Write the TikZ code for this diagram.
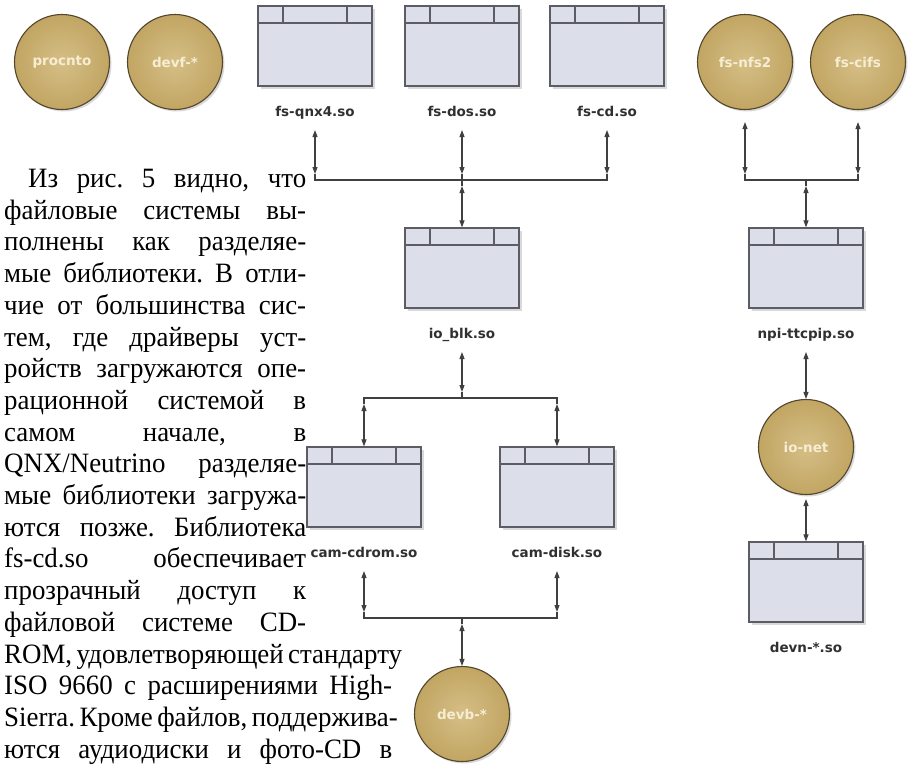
\documentclass[tikz,border=0pt]{standalone}
\usepackage{fontspec}
\setmainfont{Liberation Serif}[FakeStretch=0.96]
\newfontfamily\labelfont{DejaVu Sans}
\usepackage{xcolor}
\usetikzlibrary{positioning,calc,shadows,arrows.meta}

\definecolor{gold}{HTML}{CBAE68}
\definecolor{goldline}{HTML}{54452C}
\definecolor{cream}{HTML}{F6EDD2}
\definecolor{boxfill}{HTML}{DCDEEA}
\definecolor{boxline}{HTML}{5C5C64}
\definecolor{lblgray}{HTML}{303030}
\definecolor{wirecol}{HTML}{404040}

\newcommand{\jl}[1]{\hbox to 302pt{#1}}
\newcommand{\jw}[1]{\hbox to 388pt{#1}}

\begin{document}
\begin{tikzpicture}
  [x=1pt,y=-1pt,
   proc/.style={circle,minimum size=95pt,inner sep=0pt,draw=goldline,line width=1.1pt,
     inner color=gold!80!white,outer color=gold!95!black,
     drop shadow={shadow xshift=2pt,shadow yshift=-2pt,opacity=.3},
     text=cream,font=\labelfont\bfseries\fontsize{13.5}{16}\selectfont},
   lib/.style={rectangle,minimum width=114pt,minimum height=80pt,inner sep=0pt,
     fill=boxfill,draw=boxline,line width=1.2pt,
     drop shadow={shadow xshift=3pt,shadow yshift=-3pt,opacity=.3},
     path picture={
       \draw[boxline,line width=1.2pt]
         ([yshift=-17pt]path picture bounding box.north west) -- ([yshift=-17pt]path picture bounding box.north east)
         ([xshift=25pt]path picture bounding box.north west) -- ([xshift=25pt,yshift=-17pt]path picture bounding box.north west)
         ([xshift=-25pt]path picture bounding box.north east) -- ([xshift=-25pt,yshift=-17pt]path picture bounding box.north east);}},
   lbl/.style={font=\labelfont\bfseries\fontsize{13.5}{16}\selectfont,text=lblgray,
     text height=10pt,text depth=3pt,inner xsep=2pt,inner ysep=10pt},
   wire/.style={draw=wirecol,line width=1.1pt},
   dbl/.style={wire,{Triangle[length=7pt,width=5pt]}-{Triangle[length=7pt,width=5pt]}},
   body/.style={inner sep=0pt,anchor=north west,font=\fontsize{28}{31.7}\selectfont}]
  \useasboundingbox (0,0) rectangle (916,769);

  % text beside the figure
  \node[body] (para) at (4,169) {\vbox{\baselineskip=31.7pt\frenchspacing
    \jl{\hspace*{24pt}Из рис. 5 видно, что}
    \jl{файловые системы вы-}
    \jl{полнены как разделяе-}
    \jl{мые библиотеки. В отли-}
    \jl{чие от большинства сис-}
    \jl{тем, где драйверы уст-}
    \jl{ройств загружаются опе-}
    \jl{рационной системой в}
    \jl{самом начале, в}
    \jl{QNX/Neutrino разделяе-}
    \jl{мые библиотеки загружа-}
    \jl{ются позже. Библиотека}
    \jl{fs-cd.so обеспечивает}
    \jl{прозрачный доступ к}
    \jl{файловой системе CD-}
    \jw{ROM, удовлетворяющей стандарту}
    \jw{ISO 9660 с расширениями High-}
    \jw{Sierra. Кроме файлов, поддержива-}
    \jw{ются аудиодиски и фото-CD в}}};

  % processes
  \node[proc] (procnto) at (62,62) {procnto};
  \node[proc] (devf) at (175,62) {devf-*};
  \node[proc] (nfs) at (745,62) {fs-nfs2};
  \node[proc] (cifs) at (858,62) {fs-cifs};
  \node[proc] (ionet) at (806,447) {io-net};
  \node[proc] (devb) at (462,714) {devb-*};

  % shared libraries
  \node[lib] (qnx) at (315,46) {};
  \node[lib] (dos) at (462,46) {};
  \node[lib] (cd) at (607,46) {};
  \node[lib] (blk) at (462,268) {};
  \node[lib] (npi) at (806,268) {};
  \node[lib] (cdrom) at (364,487) {};
  \node[lib] (disk) at (557,487) {};
  \node[lib] (devn) at (806,582) {};
  \foreach \n/\t in {qnx/fs-qnx4.so,dos/fs-dos.so,cd/fs-cd.so,blk/io\_blk.so,
      npi/npi-ttcpip.so,cdrom/cam-cdrom.so,disk/cam-disk.so,devn/devn-*.so}
    \node[lbl,below=10pt of \n] (\n-lbl) {\t};

  % buses
  \coordinate (fsbus) at (462,180);
  \coordinate (netbus) at (806,180);
  \coordinate (cambus) at (462,398);
  \coordinate (devbus) at (462,618);

  % file systems -> io_blk
  \foreach \n in {qnx,dos,cd} {
    \coordinate (\n-up) at ($(\n-lbl |- fsbus)+(0,-6)$);
    \draw[dbl] (\n-lbl) -- (\n-up);
  }
  \draw[wire] (qnx-up) -- (qnx-up |- fsbus) -- (cd-up |- fsbus) -- (cd-up);
  \draw[wire] (dos-up) -- ($(fsbus)+(0,6)$) coordinate (fs-dn);
  \draw[dbl] (fs-dn) -- (blk);

  % network file systems -> npi-ttcpip
  \foreach \n in {nfs,cifs} {
    \coordinate (\n-up) at ($(\n |- netbus)+(0,-6)$);
    \draw[dbl,shorten <=12pt] (\n) -- (\n-up);
  }
  \draw[wire] (nfs-up) -- (nfs-up |- netbus) -- (cifs-up |- netbus) -- (cifs-up);
  \draw[wire] (netbus) -- ($(netbus)+(0,6)$) coordinate (net-dn);
  \draw[dbl] (net-dn) -- (npi);
  \draw[dbl] (npi-lbl) -- (ionet);
  \draw[dbl,shorten <=4pt] (ionet) -- (devn);

  % io_blk -> cam
  \coordinate (blk-dn) at ($(cambus)+(0,-6)$);
  \draw[dbl] (blk-lbl) -- (blk-dn);
  \draw[wire] (blk-dn) -- (cambus);
  \foreach \n in {cdrom,disk} {
    \coordinate (\n-top) at ($(\n |- cambus)+(0,6)$);
    \draw[dbl] (\n-top) -- (\n);
  }
  \draw[wire] (cdrom-top) -- (cdrom-top |- cambus) -- (disk-top |- cambus) -- (disk-top);

  % cam -> devb
  \foreach \n in {cdrom,disk} {
    \coordinate (\n-bot) at ($(\n-lbl |- devbus)+(0,-6)$);
    \draw[dbl] (\n-lbl) -- (\n-bot);
  }
  \draw[wire] (cdrom-bot) -- (cdrom-bot |- devbus) -- (disk-bot |- devbus) -- (disk-bot);
  \draw[wire] (devbus) -- ($(devbus)+(0,6)$) coordinate (dev-dn);
  \draw[dbl] (dev-dn) -- (devb);
\end{tikzpicture}
\end{document}
